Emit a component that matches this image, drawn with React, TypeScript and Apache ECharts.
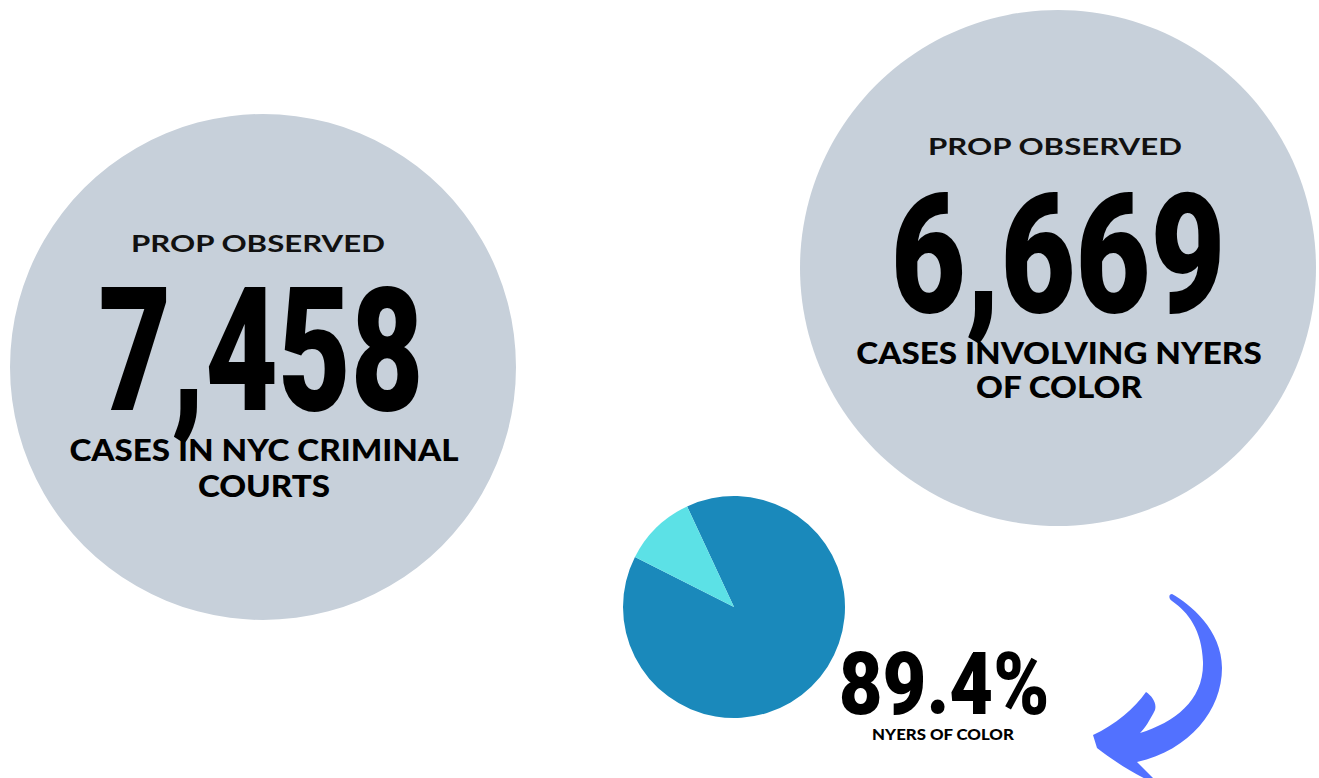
import React, { useEffect, useRef } from "react";
import * as echarts from "echarts";

const statHeaders = ["PROP OBSERVED", "PROP OBSERVED"];
const caseCounts = [7458, 6669];
const statCaptions = [
  ["CASES IN NYC CRIMINAL", "COURTS"],
  ["CASES INVOLVING NYERS", "OF COLOR"],
];
const pieCategories = ["NYers of color", "Other"];
const pieValues = [89.4, 10.6];
const pieLabel = "NYERS OF COLOR";

const ARROW_D =
  "M1172,594 C1190,604 1222,630 1222,668 C1222,710 1190,750 1137,762 L1153,778 L1150,781 C1130,772 1110,758 1097,748 L1093,735 C1115,725 1135,708 1146,692 C1152,696 1157,703 1155,710 C1150,720 1145,728 1140,733 C1175,722 1204,700 1203,662 C1202,630 1188,612 1172,601 C1168,598 1169,594 1172,594 Z";

let registered = false;

export default function App() {
  const ref = useRef<HTMLDivElement>(null);
  useEffect(() => {
    if (!ref.current) return;
    if (!registered) {
      echarts.graphic.registerShape("arrowShape", echarts.graphic.extendPath(ARROW_D, {}));
      registered = true;
    }
    const chart = echarts.init(ref.current, null, { renderer: "svg" });
    const grey = "#c7d0da";
    const numFont = "Roboto";
    const labelFont = "Lato";
    const circles = [
      { cx: 263, cy: 367, r: 253, hx: 258, hy: 243, nx: 261, ny: 351, nSize: 172, nScale: 0.73, capX: 264, capScale: 1.07, cy1: 449, cy2: 485 },
      { cx: 1058, cy: 268, r: 258, hx: 1055, hy: 146, nx: 1058, ny: 255, nSize: 168, nScale: 0.77, capX: 1059, capScale: 1.07, cy1: 352, cy2: 386 },
    ];
    const graphics: any[] = [];
    circles.forEach((c, i) => {
      graphics.push({ type: "circle", shape: { cx: c.cx, cy: c.cy, r: c.r }, style: { fill: grey }, z: 0 });
      graphics.push({
        type: "text", x: c.hx, y: c.hy, scaleX: 1.42, z: 2,
        style: { text: statHeaders[i], x: 0, y: 0, align: "center", verticalAlign: "middle", fontFamily: labelFont, fontWeight: "bold", fontSize: 22, fill: "#111" },
      });
      graphics.push({
        type: "text", x: c.nx, y: c.ny, scaleX: c.nScale, z: 1,
        style: { text: caseCounts[i].toLocaleString("en-US"), x: 0, y: 0, align: "center", verticalAlign: "middle", fontFamily: numFont, fontWeight: 900, fontSize: c.nSize, fill: "#000" },
      });
      graphics.push({
        type: "text", x: c.capX, y: c.cy1, scaleX: c.capScale, z: 2,
        style: { text: statCaptions[i][0], x: 0, y: 0, align: "center", verticalAlign: "middle", fontFamily: labelFont, fontWeight: 900, fontSize: 31, fill: "#000" },
      });
      graphics.push({
        type: "text", x: c.capX, y: c.cy2, scaleX: c.capScale, z: 2,
        style: { text: statCaptions[i][1], x: 0, y: 0, align: "center", verticalAlign: "middle", fontFamily: labelFont, fontWeight: 900, fontSize: 31, fill: "#000" },
      });
    });
    graphics.push({
      type: "text", x: 944, y: 684, scaleX: 0.86, z: 5,
      style: { text: pieValues[0].toFixed(1) + "%", x: 0, y: 0, align: "center", verticalAlign: "middle", fontFamily: numFont, fontWeight: 900, fontSize: 88, fill: "#000" },
    });
    graphics.push({
      type: "text", x: 943, y: 734, scaleX: 1.12, z: 5,
      style: { text: pieLabel, x: 0, y: 0, align: "center", verticalAlign: "middle", fontFamily: labelFont, fontWeight: 900, fontSize: 15, fill: "#000" },
    });
    graphics.push({ type: "arrowShape", x: 0, y: 0, z: 5, style: { fill: "#5271ff" } });

    chart.setOption({
      animation: false,
      graphic: graphics,
      series: [
        {
          type: "pie",
          center: [734, 607],
          radius: 111,
          startAngle: 115,
          clockwise: true,
          silent: true,
          z: 3,
          label: { show: false },
          labelLine: { show: false },
          itemStyle: { borderWidth: 0 },
          color: ["#1a89bb", "#5ce1e6"],
          data: pieCategories.map((name, i) => ({ name, value: pieValues[i] })),
        },
      ],
    });
    return () => chart.dispose();
  }, []);
  return (
    <div
      ref={ref}
      style={{ position: "fixed", left: 0, top: 0, width: 1319, height: 778, background: "#fff" }}
    />
  );
}
